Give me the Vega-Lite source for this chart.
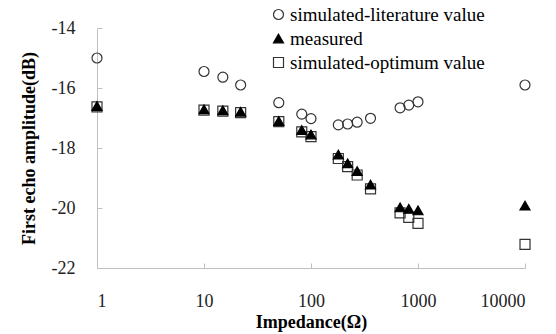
{
  "$schema": "https://vega.github.io/schema/vega-lite/v6.json",
  "width": 428,
  "height": 240,
  "autosize": {"type": "none"},
  "padding": {"left": 97, "top": 28, "right": 31, "bottom": 66},
  "background": "white",
  "config": {
    "view": {"stroke": null},
    "axis": {
      "grid": false,
      "domainColor": "#bfbfbf",
      "tickColor": "#bfbfbf",
      "tickSize": -5
    }
  },
  "data": {
    "values": [
      {"impedance": 1, "amp": -15.0, "series": "simulated-literature value"},
      {"impedance": 10, "amp": -15.45, "series": "simulated-literature value"},
      {"impedance": 15, "amp": -15.64, "series": "simulated-literature value"},
      {"impedance": 22, "amp": -15.9, "series": "simulated-literature value"},
      {"impedance": 50, "amp": -16.49, "series": "simulated-literature value"},
      {"impedance": 82, "amp": -16.87, "series": "simulated-literature value"},
      {"impedance": 100, "amp": -17.02, "series": "simulated-literature value"},
      {"impedance": 180, "amp": -17.23, "series": "simulated-literature value"},
      {"impedance": 220, "amp": -17.2, "series": "simulated-literature value"},
      {"impedance": 270, "amp": -17.14, "series": "simulated-literature value"},
      {"impedance": 360, "amp": -17.01, "series": "simulated-literature value"},
      {"impedance": 680, "amp": -16.66, "series": "simulated-literature value"},
      {"impedance": 820, "amp": -16.57, "series": "simulated-literature value"},
      {"impedance": 1000, "amp": -16.46, "series": "simulated-literature value"},
      {"impedance": 10000, "amp": -15.9, "series": "simulated-literature value"},
      {"impedance": 1, "amp": -16.63, "series": "simulated-optimum value"},
      {"impedance": 10, "amp": -16.74, "series": "simulated-optimum value"},
      {"impedance": 15, "amp": -16.77, "series": "simulated-optimum value"},
      {"impedance": 22, "amp": -16.82, "series": "simulated-optimum value"},
      {"impedance": 50, "amp": -17.12, "series": "simulated-optimum value"},
      {"impedance": 82, "amp": -17.46, "series": "simulated-optimum value"},
      {"impedance": 100, "amp": -17.62, "series": "simulated-optimum value"},
      {"impedance": 180, "amp": -18.35, "series": "simulated-optimum value"},
      {"impedance": 220, "amp": -18.62, "series": "simulated-optimum value"},
      {"impedance": 270, "amp": -18.9, "series": "simulated-optimum value"},
      {"impedance": 360, "amp": -19.36, "series": "simulated-optimum value"},
      {"impedance": 680, "amp": -20.16, "series": "simulated-optimum value"},
      {"impedance": 820, "amp": -20.31, "series": "simulated-optimum value"},
      {"impedance": 1000, "amp": -20.51, "series": "simulated-optimum value"},
      {"impedance": 10000, "amp": -21.21, "series": "simulated-optimum value"},
      {"impedance": 1, "amp": -16.6, "series": "measured"},
      {"impedance": 10, "amp": -16.71, "series": "measured"},
      {"impedance": 15, "amp": -16.74, "series": "measured"},
      {"impedance": 22, "amp": -16.79, "series": "measured"},
      {"impedance": 50, "amp": -17.1, "series": "measured"},
      {"impedance": 82, "amp": -17.4, "series": "measured"},
      {"impedance": 100, "amp": -17.55, "series": "measured"},
      {"impedance": 180, "amp": -18.22, "series": "measured"},
      {"impedance": 220, "amp": -18.51, "series": "measured"},
      {"impedance": 270, "amp": -18.77, "series": "measured"},
      {"impedance": 360, "amp": -19.22, "series": "measured"},
      {"impedance": 680, "amp": -19.98, "series": "measured"},
      {"impedance": 820, "amp": -20.03, "series": "measured"},
      {"impedance": 1000, "amp": -20.08, "series": "measured"},
      {"impedance": 10000, "amp": -19.92, "series": "measured"}
    ]
  },
  "mark": {"type": "point", "size": 100, "strokeWidth": 1.2, "opacity": 1},
  "encoding": {
    "x": {
      "field": "impedance",
      "type": "quantitative",
      "scale": {"type": "log", "domain": [1, 10000], "nice": false},
      "axis": {
        "title": "Impedance(Ω)",
        "values": [1, 10, 100, 1000, 10000],
        "format": "d",
        "labelFont": "Liberation Serif",
        "labelFontSize": 18,
        "labelColor": "#222",
        "labelPadding": 29,
        "titleFont": "Liberation Serif",
        "titleFontSize": 18,
        "titleFontWeight": "bold",
        "titleColor": "black",
        "titlePadding": 3
      }
    },
    "y": {
      "field": "amp",
      "type": "quantitative",
      "scale": {"domain": [-22, -14], "nice": false, "zero": false},
      "axis": {
        "title": "First echo amplitude(dB)",
        "values": [-22, -20, -18, -16, -14],
        "labelExpr": "'-' + abs(datum.value)",
        "labelFont": "Liberation Serif",
        "labelFontSize": 18,
        "labelColor": "#222",
        "labelPadding": 27,
        "titleFont": "Liberation Serif",
        "titleFontSize": 18,
        "titleFontWeight": "bold",
        "titleColor": "black",
        "titlePadding": 13
      }
    },
    "shape": {
      "field": "series",
      "type": "nominal",
      "scale": {
        "domain": ["simulated-literature value", "measured", "simulated-optimum value"],
        "range": ["circle", "triangle-up", "square"]
      },
      "legend": {
        "title": null,
        "orient": "none",
        "legendX": 172,
        "legendY": -23,
        "labelFont": "Liberation Serif",
        "labelFontSize": 19,
        "labelColor": "black",
        "labelLimit": 400,
        "symbolSize": 100,
        "symbolStrokeWidth": 1.2,
        "rowPadding": 4,
        "labelOffset": 2,
        "padding": 0
      }
    },
    "fill": {
      "field": "series",
      "type": "nominal",
      "scale": {
        "domain": ["simulated-literature value", "measured", "simulated-optimum value"],
        "range": ["transparent", "black", "transparent"]
      },
      "legend": null
    },
    "stroke": {
      "field": "series",
      "type": "nominal",
      "scale": {
        "domain": ["simulated-literature value", "measured", "simulated-optimum value"],
        "range": ["#333", "black", "#333"]
      },
      "legend": null
    }
  }
}
